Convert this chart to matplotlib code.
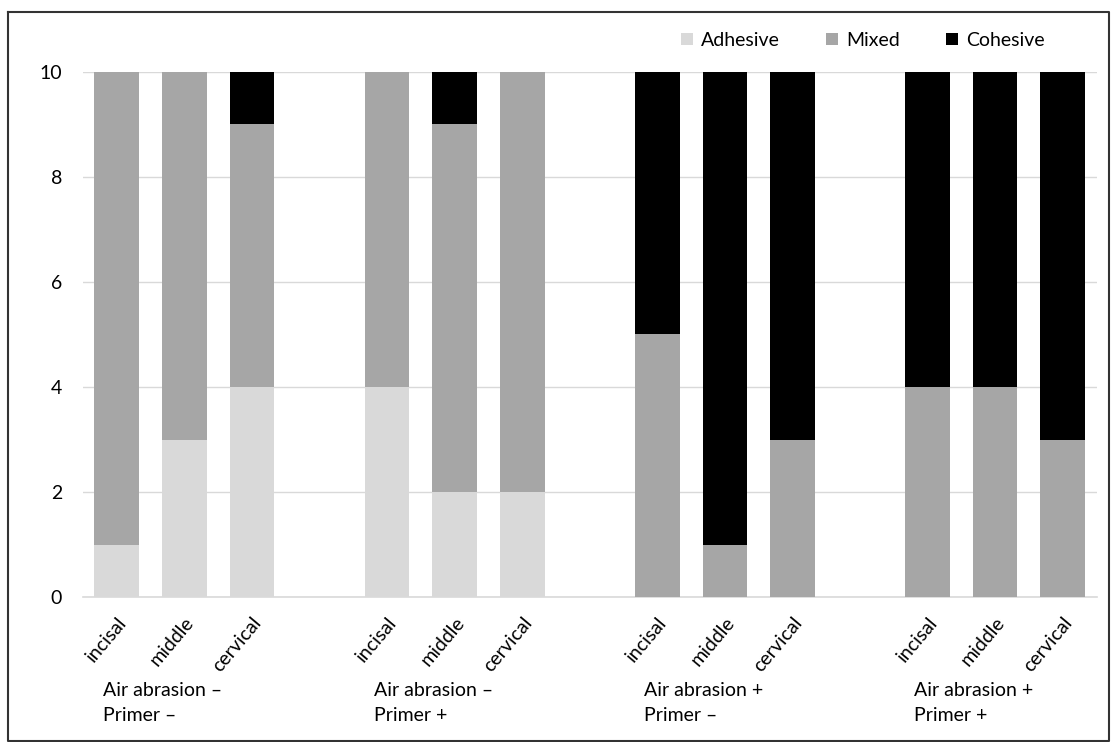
import numpy as np
import matplotlib
matplotlib.use('Agg')
import matplotlib.pyplot as plt
import matplotlib.transforms as mtransforms
from matplotlib.lines import Line2D

plt.rcParams['font.family'] = ['Lato', 'DejaVu Sans']

positions = ['incisal', 'middle', 'cervical']
groups = ['Air abrasion \u2013\nPrimer \u2013', 'Air abrasion \u2013\nPrimer +',
          'Air abrasion +\nPrimer \u2013', 'Air abrasion +\nPrimer +']

adhesive = [1, 3, 4, 4, 2, 2, 0, 0, 0, 0, 0, 0]
mixed = [9, 7, 5, 6, 7, 8, 5, 1, 3, 4, 4, 3]
cohesive = [0, 0, 1, 0, 1, 0, 5, 9, 7, 6, 6, 7]

series_names = ['Adhesive', 'Mixed', 'Cohesive']
colors = ['#d9d9d9', '#a6a6a6', '#000000']

# 3 bars per group, one empty slot between groups
x = []
for g in range(len(groups)):
    for p in range(len(positions)):
        x.append(g * 4 + p)
x = np.array(x)

fig = plt.figure(figsize=(11.11, 7.42), dpi=100)
ax = fig.add_axes([0.0747, 0.1954, 0.9123, 0.7076])

bottom = np.zeros(len(x))
for vals, name, c in zip([adhesive, mixed, cohesive], series_names, colors):
    ax.bar(x, vals, width=0.66, bottom=bottom, color=c, label=name, zorder=3)
    bottom += np.array(vals)

ax.set_xlim(-0.5, 14.5)
ax.set_ylim(0, 10)
ax.set_yticks(range(0, 11, 2))
ax.yaxis.grid(True, color='#d9d9d9', linewidth=1, zorder=0)
for s in ['top', 'right', 'left']:
    ax.spines[s].set_visible(False)
ax.spines['bottom'].set_color('#d9d9d9')
ax.spines['bottom'].set_linewidth(1.2)
ax.tick_params(axis='both', length=0, labelsize=14, colors='#000000')
ax.tick_params(axis='y', pad=15)
ax.tick_params(axis='x', pad=12)

ax.set_xticks(x)
ax.set_xticklabels(positions * len(groups), rotation=50, ha='right',
                   rotation_mode='anchor', fontsize=14)

trans = mtransforms.blended_transform_factory(ax.transData, fig.transFigure)
for g, name in enumerate(groups):
    ax.text(g * 4 - 0.2, 0.053, name, transform=trans, ha='left', va='center',
            fontsize=14, linespacing=1.55)

fig.legend(loc='center right', bbox_to_anchor=(0.94, 0.946), ncol=3, frameon=False,
           fontsize=14, handlelength=0.6, handleheight=0.6, columnspacing=2.4,
           handletextpad=0.4, borderaxespad=0, borderpad=0)

# outer frame
fx = [0.0072, 0.9985, 0.9985, 0.0072, 0.0072]
fy = [0.9838, 0.9838, 0.0015, 0.0015, 0.9838]
fig.lines.append(Line2D(fx, fy, transform=fig.transFigure,
                        color='#333333', linewidth=1.5))

fig.savefig('out.png', dpi=100)
